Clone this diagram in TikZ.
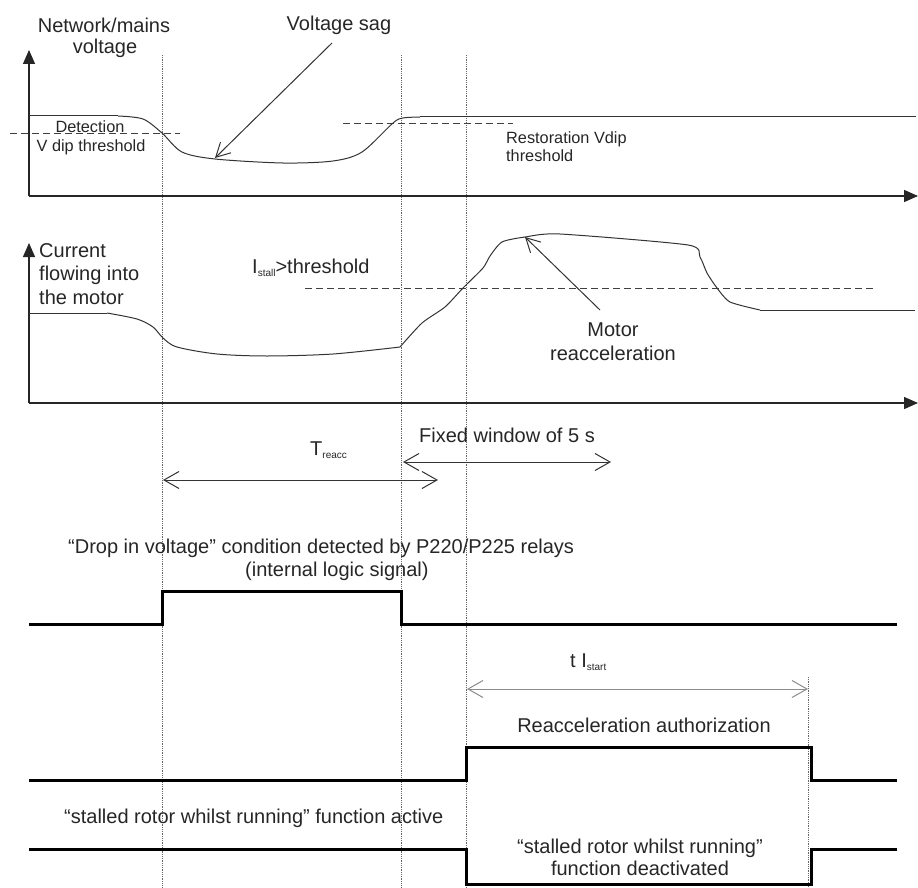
\documentclass[tikz,border=0pt]{standalone}
\usepackage{fontspec}
\setmainfont{Liberation Sans}
\usetikzlibrary{arrows.meta}
% small lowered index used in I_stall, T_reacc, t I_start
\newcommand\lowidx[1]{\raisebox{-3.5pt}{\fontsize{10}{10}\selectfont #1}}
\begin{document}
\begin{tikzpicture}[x=1pt,y=-1pt,
  lbl/.style={inner sep=0pt, text=black!85, font=\fontsize{20}{21}\selectfont},
  lblsmall/.style={inner sep=0pt, text=black!85, font=\fontsize{16.3}{18}\selectfont},
  axisline/.style={line width=1.4pt, black!85, -{Triangle[length=14pt,width=12pt]}},
  guide/.style={line width=0.7pt, black!60, dash pattern=on 0.9pt off 0.9pt},
  thr/.style={line width=1pt, black!75, dash pattern=on 7pt off 4pt},
  wave/.style={line width=1pt, black!80},
  logic/.style={line width=3pt, black, line join=miter},
  pointer/.style={line width=1pt, black!80, -{Straight Barb[length=14pt,width=15pt]}},
  span/.style={line width=1pt, black!80,
    {Straight Barb[length=15pt,width=17pt]}-{Straight Barb[length=15pt,width=17pt]}},
]
\useasboundingbox (0,0) rectangle (918,888);

% vertical time markers
\draw[guide] (162,55) -- (162,888);
\draw[guide] (401,55) -- (401,888);
\draw[guide] (466,55) -- (466,888);
\draw[guide] (808,677) -- (808,888);

% ---------- mains voltage ----------
\draw[axisline] (29,196) -- (29,50);
\draw[axisline] (29,196) -- (918,196);
\draw[thr] (10,134) -- (180,134);
\draw[thr] (343,124) -- (513,124);
\draw[wave] (29,116) -- (118,116);
\draw[wave] plot[smooth, tension=0.5] coordinates {(118,116) (143,119) (162,133) (182,152)
  (215,159) (283,163) (333,161) (362,152) (393,123) (403,118) (420,117)};
\draw[wave] (420,117) -- (916,117);

\node[lbl, anchor=base] (nm1) at (104,33) {Network/mains};
\node[lbl, anchor=base] (nm2) at (105,54) {voltage};
\node[lbl, anchor=base] (sag) at (339,31) {Voltage sag};
\node[lblsmall, anchor=base] (det1) at (90,133) {Detection};
\node[lblsmall, anchor=base] (det2) at (91,152) {V dip threshold};
\node[lblsmall, anchor=base west] (res1) at (506,143) {Restoration Vdip};
\node[lblsmall, anchor=base west] (res2) at (506,161) {threshold};
\coordinate (sagtail) at (332,43);
\coordinate (sagtip) at (215,158);
\draw[pointer] (sagtail) -- (sagtip);

% ---------- motor current ----------
\draw[axisline] (29,403) -- (29,243);
\draw[axisline] (29,403) -- (918,403);
\draw[thr] (305,288) -- (873,288);
\draw[wave] (29,313) -- (107,313);
\draw[wave] plot[smooth, tension=0.5] coordinates {(107,313) (137,319) (153,327) (163,338)
  (177,347) (217,354) (267,356) (333,354) (400,347)};
\draw[wave] plot[smooth, tension=0.4] coordinates {(400,347) (422,323) (445,307) (463,288)
  (483,268) (490,256) (502,242) (525,237) (560,234) (688,245) (700,257) (707,273)
  (717,288) (730,302) (760,310)};
\draw[wave] (760,310) -- (915,310);

\node[lbl, anchor=base west] (cur1) at (39,257) {Current};
\node[lbl, anchor=base west] (cur2) at (39,280) {flowing into};
\node[lbl, anchor=base west] (cur3) at (39,304) {the motor};
\node[lbl, anchor=base west] (stall) at (252,273) {I\lowidx{stall}>threshold};
\node[lbl, anchor=base] (mot1) at (613,336) {Motor};
\node[lbl, anchor=base] (mot2) at (613,360) {reacceleration};
\coordinate (mottail) at (600,310);
\coordinate (mottip) at (525,237);
\draw[pointer] (mottail) -- (mottip);

% ---------- time spans ----------
\node[lbl, anchor=base] (win) at (507,442) {Fixed window of 5 s};
\node[lbl, anchor=base west] (treacc) at (310,455) {T\lowidx{reacc}};
\coordinate (fw1) at (403,462);
\coordinate (fw2) at (611,462);
\draw[span] (fw1) -- (fw2);
\coordinate (tr1) at (163,480);
\coordinate (tr2) at (438,480);
\draw[span] (tr1) -- (tr2);

% ---------- logic signals ----------
\node[lbl, anchor=base west] (drop1) at (68,553) {“Drop in voltage" condition detected by P220/P225 relays};
\node[lbl, anchor=base west] (drop2) at (245,576) {(internal logic signal)};
\draw[logic] (29,624) -- (162,624) -- (162,591) -- (401,591) -- (401,624) -- (897,624);

\node[lbl, anchor=base west] (tist) at (570,667) {t I\lowidx{start}};
\coordinate (ts1) at (467,689);
\coordinate (ts2) at (808,689);
\draw[span, black!45] (ts1) -- (ts2);
\node[lbl, anchor=base] (auth) at (644,732) {Reacceleration authorization};
\draw[logic] (29,780) -- (466,780) -- (466,747) -- (811,747) -- (811,780) -- (897,780);

\node[lbl, anchor=base west] (act) at (64,823) {“stalled rotor whilst running” function active};
\node[lbl, anchor=base] (deact1) at (640,853) {“stalled rotor whilst running”};
\node[lbl, anchor=base] (deact2) at (640,875) {function deactivated};
\draw[logic] (29,849) -- (466,849) -- (466,884) -- (811,884) -- (811,849) -- (897,849);
\end{tikzpicture}
\end{document}
